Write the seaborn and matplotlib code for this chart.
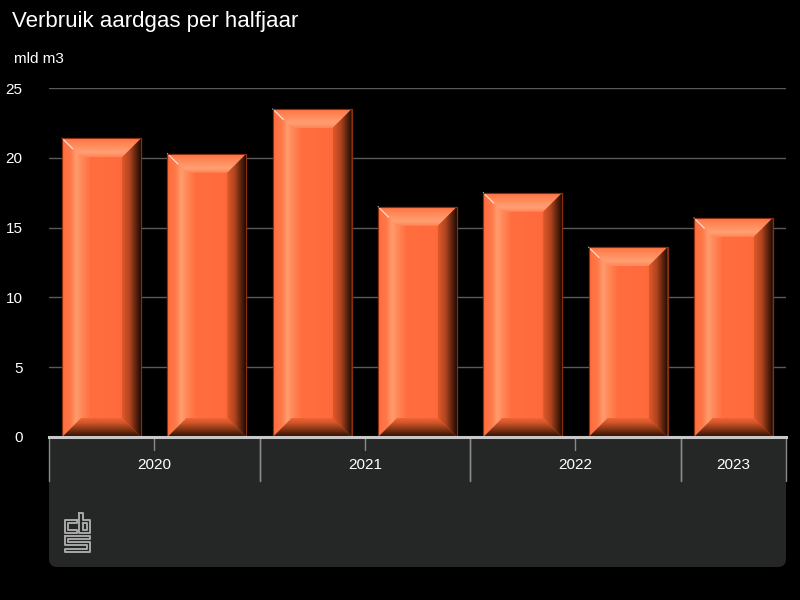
import numpy as np
import pandas as pd
import matplotlib.pyplot as plt
from matplotlib.patches import Polygon, FancyBboxPatch
from matplotlib.colors import to_rgb
import matplotlib.transforms as mtransforms
import seaborn as sns


periods = ['2020-1', '2020-2', '2021-1', '2021-2', '2022-1', '2022-2', '2023-1']
years = ['2020', '2020', '2021', '2021', '2022', '2022', '2023']
values = [21.4, 20.3, 23.5, 16.5, 17.5, 13.6, 15.7]
y_ticks = [0, 5, 10, 15, 20, 25]

TITLE = 'Verbruik aardgas per halfjaar'
UNIT = 'mld m3'

ORANGE = '#ff6b3d'
df = pd.DataFrame({'periode': periods, 'jaar': years, 'waarde': values})

sns.set_style('dark')
plt.rcParams['font.family'] = ['Liberation Sans', 'DejaVu Sans']


def gradient(stops, n=64):
    """Build an RGB ramp from a list of (pos, colour) stops."""
    pos = np.array([s[0] for s in stops])
    cols = np.array([to_rgb(s[1]) for s in stops])
    t = np.linspace(0, 1, n)
    return np.stack([np.interp(t, pos, cols[:, k]) for k in range(3)], axis=-1)


def fill_poly(ax, pts, stops, horizontal=True, flip=False):
    """Paint a polygon with a linear gradient (left->right or bottom->top)."""
    pts = np.asarray(pts)
    x0, x1 = pts[:, 0].min(), pts[:, 0].max()
    y0, y1 = pts[:, 1].min(), pts[:, 1].max()
    ramp = gradient(stops)
    if flip:
        ramp = ramp[::-1]
    img = ramp[None, :, :] if horizontal else ramp[:, None, :]
    clip = Polygon(pts, closed=True, transform=ax.transData)
    im = ax.imshow(img, extent=(x0, x1, y0, y1), origin='lower',
                   aspect='auto', interpolation='bilinear', zorder=3)
    im.set_clip_path(clip)


fig = plt.figure(figsize=(8, 6), dpi=100, facecolor='black')

# background layer in pixel coordinates: panel under the axis + logo
bg = fig.add_axes([0, 0, 1, 1], zorder=-1)
bg.set_xlim(0, 800)
bg.set_ylim(600, 0)
bg.axis('off')
bg.add_patch(FancyBboxPatch((49, 420), 737, 147,
                            boxstyle='round,pad=0,rounding_size=8',
                            facecolor='#252727', edgecolor='none'))
logo = [
    [(77, 520), (65, 520), (65, 533), (77, 533), (77, 530), (68, 530),
     (68, 523), (77, 523), (77, 520)],
    [(79, 513), (83, 513), (83, 520), (90, 520), (90, 533), (79, 533), (79, 513)],
    [(83, 523), (87, 523), (87, 530), (83, 530), (83, 523)],
    [(65, 536), (90, 536), (90, 539), (68, 539), (68, 542), (90, 542),
     (90, 552), (65, 552), (65, 549), (87, 549), (87, 545), (65, 545), (65, 536)],
]
for seg in logo:
    xs, ys = zip(*seg)
    bg.plot(xs, ys, color='#a8a8a8', lw=1.4)

ax = fig.add_axes([49 / 800, 1 - 437 / 600, 737 / 800, 349 / 600])
ax.set_facecolor('black')

sns.barplot(data=df, x='periode', y='waarde', color=ORANGE, saturation=1,
            width=0.75, edgecolor='#8a2e12', linewidth=0.8, ax=ax, zorder=2)

ax.set_xlim(-0.5, len(periods) - 0.5)
ax.set_ylim(0, 25)

# bevel size: ~19 px in both directions
bx = 19 / 105.3
by = 19 / 13.96
for p in ax.patches:
    x0 = p.get_x()
    x1 = x0 + p.get_width()
    h = p.get_height()
    # face
    fill_poly(ax, [(x0, 0), (x1, 0), (x1, h), (x0, h)],
              [(0, '#ff8a5a'), (0.24, '#ff8a5a'), (0.36, '#ff6d3f'),
               (0.72, '#ff6b3d'), (0.82, '#f4632f'), (1, '#e0582a')])
    # top bevel
    fill_poly(ax, [(x0, h), (x1, h), (x1 - bx, h - by), (x0 + bx, h - by)],
              [(0, '#ff7446'), (0.4, '#ff8c5c'), (0.75, '#ffa074'), (1, '#ff8556')],
              horizontal=False, flip=True)
    # left bevel
    fill_poly(ax, [(x0, 0), (x0, h), (x0 + bx, h - by), (x0 + bx, by)],
              [(0, '#ff6d3e'), (0.45, '#ff7848'), (0.75, '#ff9c6e'), (1, '#ff8c5c')])
    # right bevel
    fill_poly(ax, [(x1, 0), (x1, h), (x1 - bx, h - by), (x1 - bx, by)],
              [(0, '#e0582a'), (0.4, '#b04520'), (0.75, '#5a220c'), (1, '#1e0a03')])
    # bottom bevel
    fill_poly(ax, [(x0, 0), (x1, 0), (x1 - bx, by), (x0 + bx, by)],
              [(0, '#2a0f05'), (0.35, '#7a3012'), (0.75, '#d0552a'), (1, '#f06538')],
              horizontal=False)
    # white sparkle on top-left corner
    ax.plot([x0, x0 + bx * 0.55], [h, h - by * 0.55], color='white',
            lw=0.8, alpha=0.8, zorder=4)
    ax.add_patch(plt.Rectangle((x0, 0), x1 - x0, h, fill=False,
                               edgecolor='#8a2e12', lw=0.8, zorder=5))

ax.set_xlim(-0.5, len(periods) - 0.5)
ax.set_ylim(0, 25)

ax.yaxis.grid(True, color='#5a5a5a', lw=1)
ax.xaxis.grid(False)
ax.set_axisbelow(True)
ax.set_yticks(y_ticks)
ax.tick_params(axis='y', length=0, pad=19, labelsize=11, labelcolor='white')
ax.set_xticks([])
ax.set_xlabel('')
ax.set_ylabel('')
for s in ['top', 'right', 'left']:
    ax.spines[s].set_visible(False)
ax.spines['bottom'].set_color('#c8c8c8')
ax.spines['bottom'].set_linewidth(2.2)
ax.spines['bottom'].set_zorder(6)

# year groups below the axis
tr = mtransforms.blended_transform_factory(ax.transData, ax.transAxes)
sep_kw = dict(color='#8a8a8a', lw=1, transform=tr, clip_on=False)
idx = np.arange(len(periods))
uniq = list(dict.fromkeys(years))
for yr in uniq:
    pos = idx[np.array(years) == yr]
    left, right = pos.min() - 0.5, pos.max() + 0.5
    ax.plot([left, left], [0, -0.126], **sep_kw)
    ax.plot([right, right], [0, -0.126], **sep_kw)
    for b in pos[:-1]:
        ax.plot([b + 0.5, b + 0.5], [0, -0.037], **sep_kw)
    ax.text((left + right) / 2, -0.080, yr, transform=tr, ha='center',
            va='center', color='white', fontsize=11)

fig.text(12 / 800, 1 - 22 / 600, TITLE, color='white', fontsize=16,
         ha='left', va='center')
fig.text(14 / 800, 1 - 59 / 600, UNIT, color='white', fontsize=11,
         ha='left', va='center')

fig.savefig('out.png', dpi=100, facecolor='black')
